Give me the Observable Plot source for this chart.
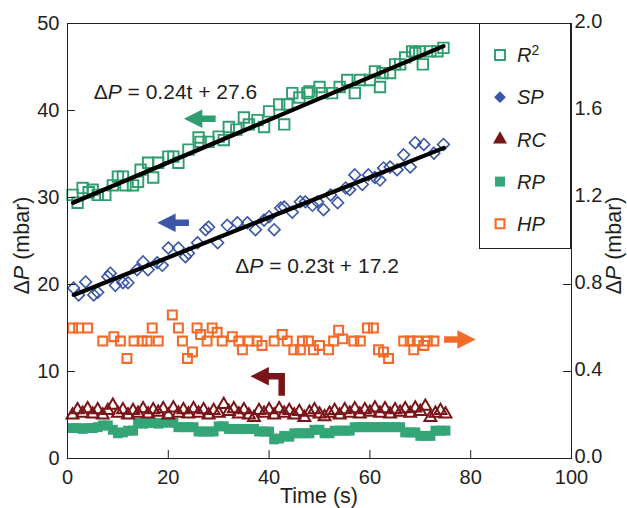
<!DOCTYPE html>
<html><head><meta charset="utf-8">
<script src="https://cdn.jsdelivr.net/npm/d3@7"></script>
<script src="https://cdn.jsdelivr.net/npm/@observablehq/plot@0.6"></script>
<style>
body{margin:0;background:#fff;}
#chart{position:relative;width:627px;height:508px;}
</style></head><body><div id="chart"></div>
<script>
// ---------- data ----------
const r2T = [1.0,2.0,3.0,4.2,5.0,6.0,7.5,9,10,11,11.5,13,14,14.5,16,17,18,20,21,22,24,26,26.4,28,30,31,32,33.5,35,36,37.7,39,40,42,43,43.6,44.6,46,47.6,48,50,50.5,52.5,54,55.5,57,58,60,61,62,62.5,64,65,66,67,68.4,69,69.8,70.5,72,73.4,74.6];
const r2V = [30.3,29.4,31.1,30.6,30.9,30.3,30.3,31.4,32.4,32.4,31.4,31.4,31.8,33.2,34.0,32.3,34.0,34.7,34.7,34.0,35.5,36.9,36.4,36.4,37.0,36.6,38.1,37.8,39.2,38.4,38.9,38.1,39.9,40.7,38.4,40.7,42.0,41.5,42.0,42.2,42.7,42.0,42.0,42.7,43.5,42.0,43.5,43.5,44.5,42.7,44.3,44.3,45.3,45.3,46.1,46.8,46.6,46.8,45.3,46.8,46.8,47.2];

const spT = [1.2,2.2,3.6,5.2,6.0,8.0,8.5,9.5,11,12,13.8,15,16,17.8,18.8,20,22,23.4,24,25.8,27.4,28,29.8,31.7,33.7,35.7,37.3,39,40,41,42.3,43,44.6,46.2,47.2,48.6,49.6,50.8,52.2,53.6,55.2,56,57,58.5,59.7,61,62,62.7,64,65.4,66.7,68,69,70.7,72.7,74.6];
const spV = [19.6,18.8,20.3,18.8,19.1,20.9,21.3,19.9,20.2,20.2,21.7,22.6,21.7,22.5,22.2,24.2,24.2,23.2,23.6,24.8,26.3,26.6,24.8,26.8,27.1,27.1,26.3,27.4,27.8,26.3,28.8,28.9,28.3,29.5,29.5,29.1,29.5,28.6,30.3,29.4,31.1,30.9,32.6,31.5,32.6,32.3,32.0,33.4,33.5,33.2,34.9,33.5,36.3,36.1,35.1,36.1];

const rcT = [1,2,3,4,5,6,7,8,9,10,11,12,13,14,15,16,17,18,19,20,21,22,23,24,25,26,27,28,29,30,31,32,33,34,35,36,37,38,39,40,41,42,43,44,45,46,47,48,49,50,51,52,53,54,55,56,57,58,59,60,61,62,63,64,65,66,67,68,69,70,71,72,73,74,75];
const rcV = [5.0,5.6,5.2,5.7,5.1,5.6,5.0,5.5,6.1,5.2,5.6,5.0,5.5,5.2,5.7,5.1,5.6,5.3,5.7,5.0,5.8,5.2,5.6,5.1,5.7,5.2,5.6,5.0,5.5,5.2,6.2,5.4,5.7,5.1,5.6,5.0,4.7,5.5,5.2,5.6,5.0,5.7,5.2,5.5,5.0,5.4,4.7,5.3,5.6,5.1,4.8,5.2,5.5,5.0,5.6,5.2,5.7,5.1,5.6,5.3,5.8,5.2,5.7,5.1,5.6,5.3,5.7,5.2,5.8,5.4,6.0,4.7,5.2,5.5,5.1];

const rpT = rcT.slice();
const rpV = [3.5,3.5,3.4,3.5,3.5,3.6,3.8,3.8,3.3,2.9,3.0,3.2,3.2,4.1,4.0,4.1,4.1,4.0,4.1,4.2,4.1,3.6,3.6,3.6,3.6,3.1,3.1,3.1,3.1,3.7,3.7,3.4,3.4,3.4,3.4,3.4,3.4,3.1,3.1,3.1,2.2,2.3,2.6,2.5,2.9,2.9,2.9,2.9,3.3,3.3,2.9,2.9,3.2,3.2,3.2,3.2,3.6,3.6,3.6,3.6,3.6,3.6,3.6,3.6,3.6,3.6,3.0,3.0,3.0,2.6,2.6,2.6,3.2,3.2,3.2];

// HP read on the right axis (0-2 mbar)
const hpT = [1.0,2.2,4.0,7.0,9.2,10.5,11.8,13.2,14.8,15.8,16.8,18.0,20.8,22.0,22.8,23.8,24.8,25.7,26.4,27.7,28.7,29.7,30.7,32.7,34.0,34.7,36.0,37.6,38.6,41.0,42.6,43.6,44.9,46.2,46.6,47.8,48.8,50.0,51.8,52.8,53.8,54.6,56.8,58.1,59.5,60.7,61.7,62.7,63.7,66.7,68.0,68.7,69.4,70.7,71.4,72.7];
const hpV = [0.60,0.60,0.60,0.54,0.56,0.54,0.46,0.54,0.54,0.54,0.60,0.54,0.66,0.60,0.54,0.46,0.49,0.60,0.57,0.54,0.60,0.58,0.54,0.56,0.54,0.50,0.54,0.54,0.52,0.54,0.57,0.54,0.50,0.50,0.54,0.54,0.50,0.52,0.50,0.54,0.59,0.55,0.54,0.54,0.60,0.60,0.50,0.49,0.46,0.54,0.54,0.50,0.54,0.52,0.54,0.54];

// fitted lines (end points as drawn)
const fitR2T = [1.1, 74.6], fitR2V = [29.4, 47.4];
const fitSPT = [1.25, 74.7], fitSPV = [18.8, 35.7];

// annotations
const eqText = ["ΔP = 0.24t + 27.6", "ΔP = 0.23t + 17.2"];
const eqT = [5.2, 33.3];
const eqV = [42.1, 22.1];

const arrowT = [23.1, 17.8, 36.3, 81.0];
const arrowV = [39.05, 27.1, 9.45, 13.67];
const arrowKind = ["left", "left", "bent", "right"];
const arrowSeries = ["R2", "SP", "RC", "HP"];

const xTicks = [0, 20, 40, 60, 80, 100];
const yTicks = [0, 10, 20, 30, 40, 50];
const rightTickLabels = ["0.0", "0.4", "0.8", "1.2", "1.6", "2.0"];
const rightFactor = 25; // left mbar per right mbar

const xLabel = "Time (s)";
const yLabel = "ΔP (mbar)";
const legendNames = ["R2", "SP", "RC", "RP", "HP"];

// ---------- styling ----------
const W = 627, H = 508, mL = 67, mR = 56, mT = 23, mB = 50;
const plotW = W - mL - mR, plotH = H - mT - mB;
const ink = "#231f20";
const col = {R2: "#2f9e6f", SP: "#3a56a6", RC: "#7a1418", RP: "#34a577", HP: "#f26b2a"};
const font = "'Liberation Sans', Arial, Helvetica, sans-serif";
const tickFont = 20, labelFont = 21.5;

const rows = (ts, vs) => ts.map((t, i) => ({t, v: vs[i]}));

// block-arrow custom symbols (tip at the origin)
function arrowSymbol(kind) {
  return {
    draw(ctx, size) {
      const k = Math.sqrt(size / Math.PI) / 9;
      const hl = 18.4 * k, hh = 9.2 * k, sh = 3.2 * k, len = 31.7 * k;
      if (kind === "left") {
        ctx.moveTo(0, 0); ctx.lineTo(hl, -hh); ctx.lineTo(hl, -sh); ctx.lineTo(len, -sh);
        ctx.lineTo(len, sh); ctx.lineTo(hl, sh); ctx.lineTo(hl, hh); ctx.closePath();
      } else if (kind === "right") {
        ctx.moveTo(0, 0); ctx.lineTo(-hl, -hh); ctx.lineTo(-hl, -sh); ctx.lineTo(-len, -sh);
        ctx.lineTo(-len, sh); ctx.lineTo(-hl, sh); ctx.lineTo(-hl, hh); ctx.closePath();
      } else {
        const vx0 = 28 * k, vx1 = 34.5 * k, bot = 19.5 * k;
        ctx.moveTo(0, 0); ctx.lineTo(hl, -hh); ctx.lineTo(hl, -sh); ctx.lineTo(vx1, -sh);
        ctx.lineTo(vx1, bot); ctx.lineTo(vx0, bot); ctx.lineTo(vx0, sh); ctx.lineTo(hl, sh);
        ctx.lineTo(hl, hh); ctx.closePath();
      }
    }
  };
}
const arrows = arrowT.map((t, i) => ({t, v: arrowV[i], kind: arrowKind[i], s: arrowSeries[i]}));

const chart = Plot.plot({
  width: W, height: H,
  marginLeft: mL, marginRight: mR, marginTop: mT, marginBottom: mB,
  style: {fontFamily: font, fontSize: tickFont + "px", color: ink, background: "#fff", overflow: "visible"},
  x: {domain: [0, 100]},
  y: {domain: [0, 50]},
  marks: [
    Plot.dot(rows(rpT, rpV), {x: "t", y: "v", symbol: "square", r: 5.6, fill: col.RP, stroke: "none"}),
    Plot.dot(rows(rcT, rcV), {x: "t", y: "v", symbol: "triangle", r: 4.4, fill: "none", stroke: col.RC, strokeWidth: 2}),
    Plot.dot(rows(hpT, hpV.map(v => v * rightFactor)), {x: "t", y: "v", symbol: "square", r: 5.0, fill: "none", stroke: col.HP, strokeWidth: 2.1}),
    Plot.dot(rows(spT, spV), {x: "t", y: "v", symbol: "diamond2", r: 5.3, fill: "none", stroke: col.SP, strokeWidth: 1.6}),
    Plot.dot(rows(r2T, r2V), {x: "t", y: "v", symbol: "square", r: 5.9, fill: "none", stroke: col.R2, strokeWidth: 1.9}),
    Plot.line(rows(fitR2T, fitR2V), {x: "t", y: "v", stroke: "#000", strokeWidth: 4.2}),
    Plot.line(rows(fitSPT, fitSPV), {x: "t", y: "v", stroke: "#000", strokeWidth: 4.2}),
    ...arrows.map(a => Plot.dot([a], {x: "t", y: "v", r: 9, symbol: arrowSymbol(a.kind), fill: col[a.s], stroke: "none"})),
    Plot.text(eqText.map((s, i) => ({s, t: eqT[i], v: eqV[i]})), {x: "t", y: "v", text: "s", textAnchor: "start", fontSize: 21, fill: ink}),
    Plot.frame({stroke: ink, strokeWidth: 1}),
    Plot.axisX({ticks: xTicks, tickSize: 0, tickPadding: 11, fontSize: tickFont, label: null}),
    Plot.tickX(xTicks.slice(1, -1), {x: d => d, stroke: ink, strokeWidth: 1, insetTop: plotH - 8}),
    Plot.axisY({ticks: yTicks, anchor: "left", tickSize: 0, tickPadding: 8, fontSize: tickFont, label: null}),
    Plot.tickY(yTicks.slice(1, -1), {y: d => d, stroke: ink, strokeWidth: 1, insetRight: plotW - 8}),
    Plot.axisY({ticks: yTicks, anchor: "right", tickSize: 0, tickPadding: 3, dy: -1.5, fontSize: tickFont, tickFormat: (d) => rightTickLabels[yTicks.indexOf(d)], label: null}),
    Plot.tickY(yTicks.slice(1, -1), {y: d => d, stroke: ink, strokeWidth: 1, insetLeft: plotW - 8})
  ]
});
document.getElementById("chart").appendChild(chart);

const NS = "http://www.w3.org/2000/svg";
function italicP(target) {
  const s = target.textContent;
  target.textContent = "";
  const a = document.createElementNS(NS, "tspan"); a.textContent = "Δ";
  const b = document.createElementNS(NS, "tspan"); b.textContent = "P"; b.setAttribute("font-style", "italic");
  const c = document.createElementNS(NS, "tspan"); c.textContent = s.slice(2);
  target.append(a, b, c);
}
// italic P in the equation texts
chart.querySelectorAll("text").forEach(el => {
  let target = el;
  const tsp = el.querySelectorAll("tspan");
  if (tsp.length === 1) target = tsp[0];
  if (target.textContent.startsWith("ΔP")) italicP(target);
});

const svg = d3.select(chart);
// axis titles
const ax = svg.append("g").attr("font-family", font).attr("font-size", labelFont).attr("fill", ink).attr("text-anchor", "middle");
ax.append("text").attr("x", mL + plotW / 2).attr("y", H - 5).text(xLabel);
const yMid = mT + plotH / 2 + 5;
const yl = ax.append("text").attr("transform", `translate(29,${yMid}) rotate(-90)`).text(yLabel);
italicP(yl.node());
const yr = ax.append("text").attr("transform", `translate(621,${yMid}) rotate(-90)`).text(yLabel);
italicP(yr.node());

// legend (inside the plot, top-right)
const lgW = 92, lgH = 225;
const lgX = W - mR - lgW, lgY = mT;
const lg = svg.append("g").attr("font-family", font).attr("font-size", 20).attr("fill", ink).attr("text-anchor", "start");
lg.append("rect").attr("x", lgX + 0.5).attr("y", lgY + 0.5).attr("width", lgW - 1).attr("height", lgH)
  .attr("fill", "#fff").attr("stroke", ink).attr("stroke-width", 1);
const symDefs = {
  R2: {type: d3.symbolSquare, r: 5.6, fill: "none", sw: 1.9},
  SP: {type: d3.symbolDiamond2, r: 5.3, fill: col.SP, sw: 0},
  RC: {type: d3.symbolTriangle, r: 5.2, fill: col.RC, sw: 0},
  RP: {type: d3.symbolSquare, r: 5.6, fill: col.RP, sw: 0},
  HP: {type: d3.symbolSquare, r: 5.0, fill: "none", sw: 2.1}
};
legendNames.forEach((name, i) => {
  const cy = lgY + 32 + i * 42.2;
  const d = symDefs[name];
  lg.append("path")
    .attr("transform", `translate(${lgX + 21},${cy})`)
    .attr("d", d3.symbol(d.type, Math.PI * d.r * d.r)())
    .attr("fill", d.fill === "none" ? "none" : d.fill)
    .attr("stroke", d.fill === "none" ? col[name] : "none")
    .attr("stroke-width", d.sw);
  const t = lg.append("text").attr("x", lgX + 38).attr("y", cy).attr("dy", "0.36em");
  if (name === "R2") {
    t.append("tspan").attr("font-style", "italic").text("R");
    t.append("tspan").attr("font-size", 14).attr("dy", "-0.55em").text("2");
  } else {
    t.append("tspan").attr("font-style", "italic").text(name);
  }
});
</script>
</body></html>
